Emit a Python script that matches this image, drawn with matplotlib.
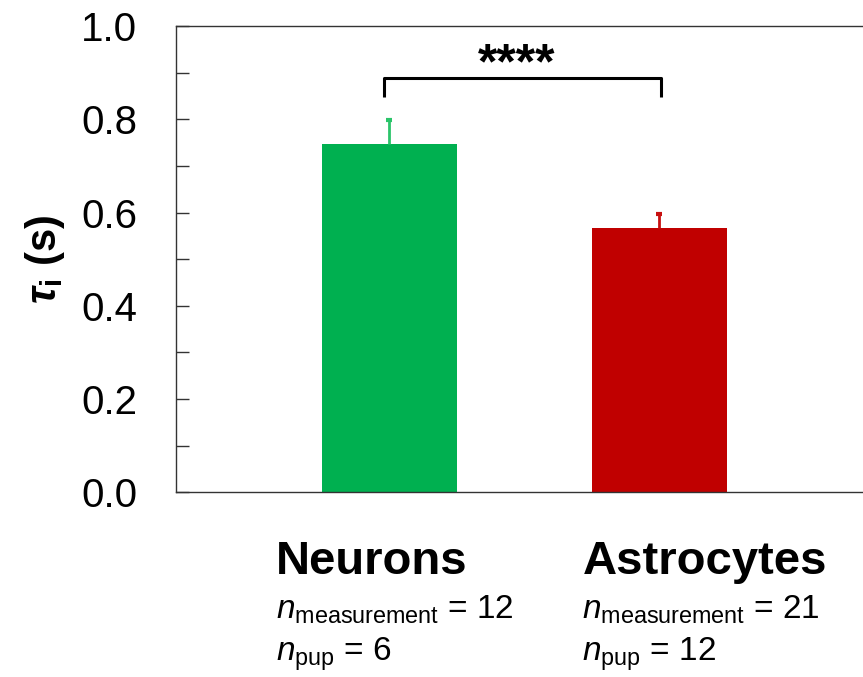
import matplotlib
matplotlib.use("Agg")
import matplotlib.pyplot as plt
from matplotlib.ticker import MultipleLocator, FormatStrFormatter

plt.rcParams['font.family'] = ['Liberation Sans', 'DejaVu Sans']
plt.rcParams['mathtext.fontset'] = 'custom'
plt.rcParams['mathtext.rm'] = 'Liberation Sans'
plt.rcParams['mathtext.it'] = 'Liberation Sans:italic'
plt.rcParams['mathtext.bf'] = 'Liberation Sans:bold'
plt.rcParams['mathtext.bfit'] = 'Liberation Sans:italic:bold'

# données
groups = ['Neurons', 'Astrocytes']
tau_mean = [0.748, 0.566]
tau_sem = [0.050, 0.030]
n_meas = [12, 21]
n_pup = [6, 12]
bar_colors = ['#00B050', '#C00000']
err_colors = ['#2BC46A', '#C81010']

fig = plt.figure(figsize=(8.63, 6.77), dpi=100)
ax = fig.add_axes([0.204, 0.273, 0.8134, 0.6883])

x = [1, 2]
ax.bar(x, tau_mean, width=0.5, color=bar_colors, zorder=2)
# barres d'erreur (haut seulement)
for xi, m, e, c in zip(x, tau_mean, tau_sem, err_colors):
    ax.vlines(xi, m, m + e, color=c, lw=2, zorder=3)
    ax.hlines(m + e, xi - 0.011, xi + 0.011, color=c, lw=3, zorder=3)

# crochet de significativité
ax.plot([0.98, 0.98, 2.005, 2.005], [0.848, 0.888, 0.888, 0.848],
        color='black', lw=2.2, solid_capstyle='butt')
ax.text(1.47, 0.915, '****', ha='center', va='center', fontsize=36,
        fontweight='bold')

ax.set_xlim(0.21, 2.81)
ax.set_ylim(0, 1.0)
ax.yaxis.set_major_locator(MultipleLocator(0.2))
ax.yaxis.set_minor_locator(MultipleLocator(0.1))
ax.yaxis.set_major_formatter(FormatStrFormatter('%.1f'))
ax.tick_params(axis='y', which='both', direction='in', length=9, width=1,
               color='#333333', labelsize=29, pad=28)
ax.tick_params(axis='x', bottom=False, labelbottom=False)
for s in ax.spines.values():
    s.set_color('#333333')
    s.set_linewidth(1)

ax.set_ylabel(r'$\mathbfit{\tau}_{\mathbf{i}}$ (s)', fontsize=30,
              fontweight='bold', labelpad=10)

# étiquettes des groupes
label_off = [0.42, 0.285]
for xi, off, g, nm, npp in zip(x, label_off, groups, n_meas, n_pup):
    xt = xi - off
    ax.text(xt, -0.175, g, fontsize=34, fontweight='bold', ha='left',
            va='baseline', clip_on=False)
    ax.text(xt, -0.272, r'$n_{\mathrm{measurement}}$ = %d' % nm, fontsize=24,
            ha='left', va='baseline', clip_on=False)
    ax.text(xt, -0.362, r'$n_{\mathrm{pup}}$ = %d' % npp, fontsize=24,
            ha='left', va='baseline', clip_on=False)

fig.savefig('out.png', dpi=100)
